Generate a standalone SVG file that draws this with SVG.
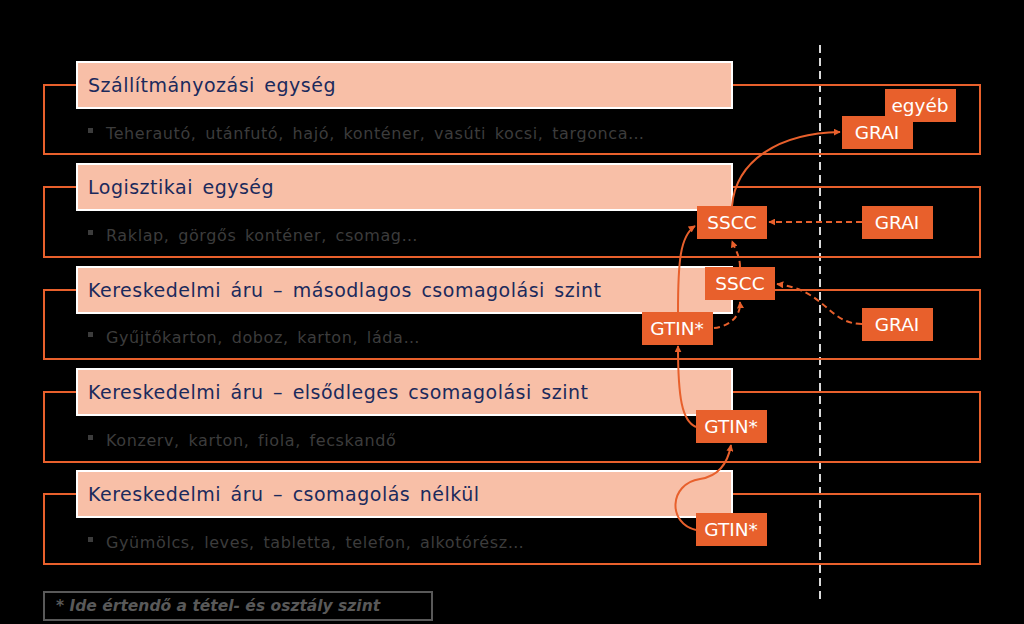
<svg xmlns="http://www.w3.org/2000/svg" width="1024" height="624" viewBox="0 0 1024 624">
<defs>
<marker id="ah" viewBox="0 0 10 10" refX="9" refY="5" markerWidth="7" markerHeight="7" markerUnits="userSpaceOnUse" orient="auto">
<path d="M0,0 L10,5 L0,10 z" fill="#E8602C"/>
</marker>
<style>
.band{fill:none;stroke:#E8602C;stroke-width:2}
.hdr{fill:#F8BFA7;stroke:#FFFFFF;stroke-width:2}
.ttl{font-family:"DejaVu Sans",Verdana,sans-serif;font-size:19px;letter-spacing:0.5px;word-spacing:3px;fill:#1B2A5C}
.sub{font-family:"DejaVu Sans",Verdana,sans-serif;font-size:16px;letter-spacing:0.6px;word-spacing:3px;fill:#3C3C3C}
.bul{fill:#3C3C3C}
.nd{fill:#E8602C}
.nt{font-family:"DejaVu Sans",Verdana,sans-serif;font-size:18.5px;fill:#FFFFFF;text-anchor:middle}
.c{fill:none;stroke:#E8602C;stroke-width:2;marker-end:url(#ah)}
.d{stroke-dasharray:6 4}
</style>
</defs>
<rect width="1024" height="624" fill="#000000"/>
<line x1="820" y1="45" x2="820" y2="602" stroke="#D9D9D9" stroke-width="2" stroke-dasharray="8 5"/>
<g id="band1">
<rect class="band" x="44" y="85" width="936" height="69"/>
<rect class="hdr" x="77" y="62" width="655" height="46"/>
<text class="ttl" x="88" y="92">Szállítmányozási egység</text>
<rect class="bul" x="88" y="128" width="5" height="5"/>
<text class="sub" x="106" y="139">Teherautó, utánfutó, hajó, konténer, vasúti kocsi, targonca…</text>
</g>
<g id="band2">
<rect class="band" x="44" y="187" width="936" height="70"/>
<rect class="hdr" x="77" y="164" width="655" height="46"/>
<text class="ttl" x="88" y="194">Logisztikai egység</text>
<rect class="bul" x="88" y="230" width="5" height="5"/>
<text class="sub" x="106" y="241">Raklap, görgős konténer, csomag…</text>
</g>
<g id="band3">
<rect class="band" x="44" y="290" width="936" height="69"/>
<rect class="hdr" x="77" y="267" width="655" height="46"/>
<text class="ttl" x="88" y="297">Kereskedelmi áru – másodlagos csomagolási szint</text>
<rect class="bul" x="88" y="332" width="5" height="5"/>
<text class="sub" x="106" y="343">Gyűjtőkarton, doboz, karton, láda…</text>
</g>
<g id="band4">
<rect class="band" x="44" y="392" width="936" height="70"/>
<rect class="hdr" x="77" y="369" width="655" height="46"/>
<text class="ttl" x="88" y="399">Kereskedelmi áru – elsődleges csomagolási szint</text>
<rect class="bul" x="88" y="435" width="5" height="5"/>
<text class="sub" x="106" y="446">Konzerv, karton, fiola, fecskandő</text>
</g>
<g id="band5">
<rect class="band" x="44" y="494" width="936" height="70"/>
<rect class="hdr" x="77" y="471" width="655" height="46"/>
<text class="ttl" x="88" y="501">Kereskedelmi áru – csomagolás nélkül</text>
<rect class="bul" x="88" y="537" width="5" height="5"/>
<text class="sub" x="106" y="548">Gyümölcs, leves, tabletta, telefon, alkotórész…</text>
</g>
<g id="connectors">
<path class="c" d="M732,206 C736,160 780,133 840,132"/>
<path class="c d" d="M862,222 L769,222"/>
<path class="c" d="M678,312 C678,262 680,236 695,226"/>
<path class="c d" d="M714,328 C732,326 741,314 740,302"/>
<path class="c d" d="M740,267 C740,256 735,249 732,241"/>
<path class="c d" d="M862,324 C828,324 826,290 777,284"/>
<path class="c" d="M696,427 C682,421 678,398 678,346"/>
<path class="c" d="M696,530 C668,524 668,484 700,479 C720,476 728,462 731,445"/>
</g>
<g id="n-egyeb"><rect class="nd" x="885" y="89" width="71" height="33"/><text class="nt" x="920" y="112">egyéb</text></g>
<g id="n-grai1"><rect class="nd" x="842" y="116" width="71" height="33"/><text class="nt" x="877" y="139">GRAI</text></g>
<g id="n-sscc1"><rect class="nd" x="697" y="206" width="70" height="33"/><text class="nt" x="732" y="229">SSCC</text></g>
<g id="n-grai2"><rect class="nd" x="862" y="206" width="71" height="33"/><text class="nt" x="897" y="229">GRAI</text></g>
<g id="n-sscc2"><rect class="nd" x="705" y="267" width="70" height="33"/><text class="nt" x="740" y="290">SSCC</text></g>
<g id="n-grai3"><rect class="nd" x="862" y="308" width="71" height="33"/><text class="nt" x="897" y="331">GRAI</text></g>
<g id="n-gtin1"><rect class="nd" x="642" y="312" width="71" height="33"/><text class="nt" x="677" y="335">GTIN*</text></g>
<g id="n-gtin2"><rect class="nd" x="696" y="410" width="71" height="33"/><text class="nt" x="731" y="433">GTIN*</text></g>
<g id="n-gtin3"><rect class="nd" x="696" y="513" width="71" height="33"/><text class="nt" x="731" y="536">GTIN*</text></g>
<g id="footnote">
<rect x="44" y="592" width="388" height="28" fill="none" stroke="#595959" stroke-width="2"/>
<text x="56" y="611" font-family="DejaVu Sans,Verdana,sans-serif" font-size="15.5px" font-weight="bold" font-style="italic" fill="#595959">* Ide értendő a tétel- és osztály szint</text>
</g>
</svg>
